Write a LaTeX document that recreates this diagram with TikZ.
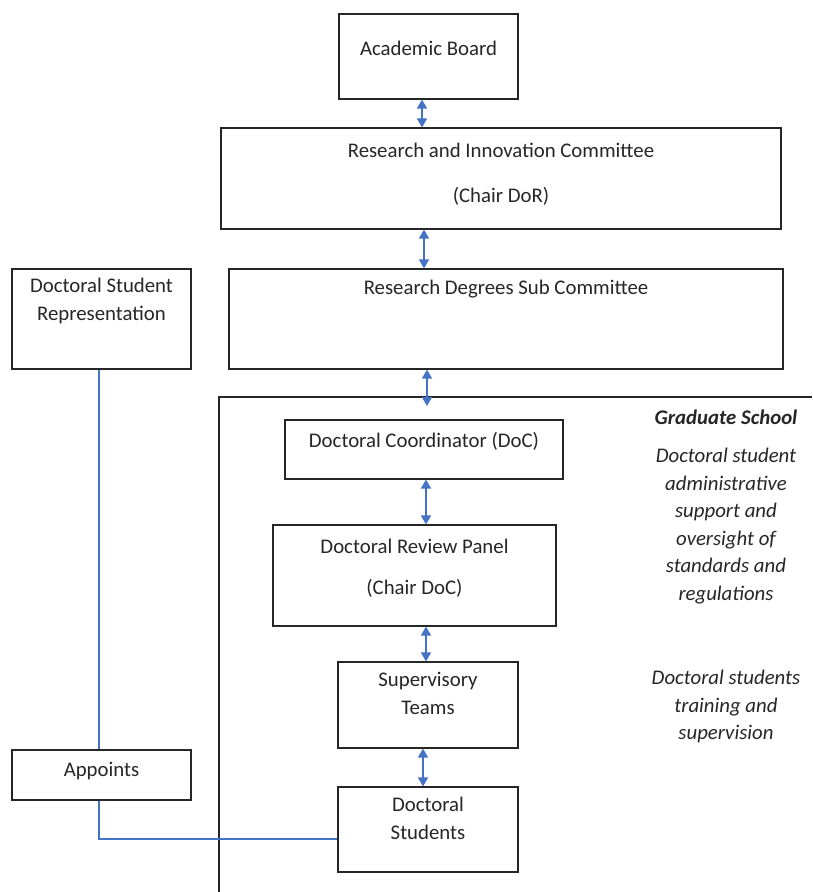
\documentclass[tikz,border=0pt]{standalone}
\usepackage{fontspec}
\setmainfont{Carlito}
\usetikzlibrary{arrows.meta}
\definecolor{officeblue}{HTML}{4472C4}
\definecolor{txt}{HTML}{262626}
\tikzset{
  box/.style={draw=black!85, line width=1.2pt, rectangle, inner sep=0pt},
  lbl/.style={inner sep=0pt, text=txt, font=\fontsize{20.8}{27.5}\selectfont, align=center},
  side/.style={inner sep=0pt, text=txt, font=\fontsize{20.8}{27.5}\selectfont\itshape, align=center},
  biarrow/.style={draw=officeblue, line width=1.6pt, {Triangle[width=10pt,length=9pt]}-{Triangle[width=10pt,length=9pt]}},
  link/.style={draw=officeblue, line width=1.1pt},
  frame/.style={draw=black!85, line width=1.2pt}
}
\begin{document}
\begin{tikzpicture}[x=1pt,y=1pt]
\useasboundingbox[fill=white] (0,0) rectangle (812,-892);
% boxes
\node[box, minimum width=179pt, minimum height=85pt] (ab) at (428.5,-56.5) {};
\node[box, minimum width=560pt, minimum height=101pt] (ric) at (501,-178.5) {};
\node[box, minimum width=179pt, minimum height=100pt] (dsr) at (101.5,-319) {};
\node[box, minimum width=554pt, minimum height=100pt] (rdsc) at (506,-319) {};
\node[box, minimum width=278pt, minimum height=59pt] (doc) at (424,-449.5) {};
\node[box, minimum width=283pt, minimum height=101pt] (drp) at (414.5,-575.5) {};
\node[box, minimum width=180pt, minimum height=86pt] (st) at (428,-705) {};
\node[box, minimum width=180pt, minimum height=85pt] (ds) at (428,-829.5) {};
\node[box, minimum width=179pt, minimum height=50pt] (app) at (101.5,-775) {};
% texts
\node[lbl] (tab) at (207+221.5,-48) {Academic Board};
\node[lbl] (tric1) at (501,-150) {Research and Innovation Committee};
\node[lbl] (tric2) at (501,-196) {(Chair DoR)};
\node[lbl, anchor=north] (tdsr) at (101.5,-278) {Doctoral Student\\Representation};
\node[lbl] (trdsc) at (506,-289) {Research Degrees Sub Committee};
\node[lbl] (tdoc) at (424,-441) {Doctoral Coordinator (DoC)};
\node[lbl] (tdrp1) at (414.5,-546) {Doctoral Review Panel};
\node[lbl] (tdrp2) at (414.5,-588) {(Chair DoC)};
\node[lbl, anchor=north] (tst) at (428,-672) {Supervisory\\Teams};
\node[lbl, anchor=north] (tds) at (428,-797) {Doctoral\\Students};
\node[lbl] (tapp) at (101.5,-771) {Appoints};
% graduate school frame
\coordinate (gsr) at (812,-397);
\coordinate (gsc) at (219,-397);
\coordinate (gsb) at (219,-892);
\draw[frame] (gsr) -- (gsc) -- (gsb);
\node[side, font=\fontsize{20.8}{27.5}\selectfont\bfseries\itshape] (tgs) at (726,-417) {Graduate School};
\node[side, anchor=north] (tgs1) at (726,-448) {Doctoral student\\administrative\\support and\\oversight of\\standards and\\regulations};
\node[side, anchor=north] (tgs2) at (726,-670) {Doctoral students\\training and\\supervision};
% arrows
\coordinate (gstop) at (427,-406);
\draw[biarrow] ([xshift=-6.5pt]ab.south) -- ([xshift=-6.5pt]ab.south |- ric.north);
\draw[biarrow] (ric.south -| 424,0) -- (rdsc.north -| 424,0);
\draw[biarrow] (rdsc.south -| gstop) -- (gstop);
\draw[biarrow] (doc.south -| 426,0) -- (drp.north -| 426,0);
\draw[biarrow] (drp.south -| 426,0) -- (st.north -| 426,0);
\draw[biarrow] (st.south -| 423,0) -- (ds.north -| 423,0);
% links
\draw[link] (dsr.south -| 99,0) -- (app.north -| 99,0);
\draw[link] (app.south -| 99,0) |- ([yshift=-9.5pt]ds.west);
\end{tikzpicture}
\end{document}
